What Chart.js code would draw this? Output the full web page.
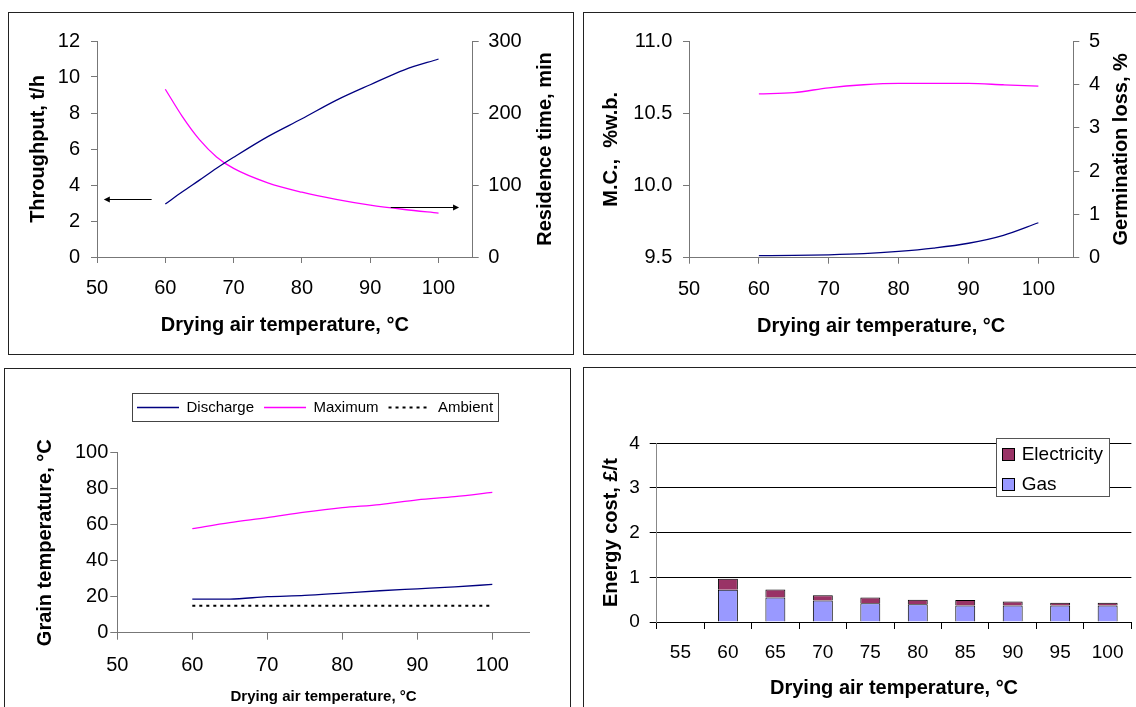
<!DOCTYPE html>
<html>
<head>
<meta charset="utf-8">
<script src="https://cdn.jsdelivr.net/npm/chart.js@4"></script>
<style>
  body { margin: 0; background: #fff; width: 1136px; height: 707px; overflow: hidden; position: relative; }
  .panel { position: absolute; border: 1px solid #222; box-sizing: border-box; }
  .panel canvas { position: absolute; left: 0; top: 0; }
</style>
</head>
<body>
<div class="panel" style="left:8px;top:12px;width:566px;height:343px"><canvas id="throughputChart" width="564" height="341"></canvas></div>
<div class="panel" style="left:583px;top:12px;width:560px;height:343px"><canvas id="qualityChart" width="552" height="341"></canvas></div>
<div class="panel" style="left:4px;top:368px;width:567px;height:345px"><canvas id="grainTempChart" width="565" height="338"></canvas></div>
<div class="panel" style="left:583px;top:367px;width:560px;height:345px"><canvas id="costChart" width="552" height="339"></canvas></div>
<script>
// throughput / residence time
const tempsA = [60, 62.5, 65, 67.5, 70, 75, 80, 85, 90, 95, 100];
const throughput = [2.94, 3.62, 4.27, 4.93, 5.54, 6.69, 7.68, 8.70, 9.57, 10.40, 11.00];
const residence = [233, 195, 163, 139, 123, 103, 90, 80, 72, 66, 61];
// arrows pointing each curve to its axis
const arrowFrom = [58, 93];
const arrowTo = [51, 103];
const arrowLevel = [3.25, 2.8];

// moisture content / germination loss
const tempsB = [60, 65, 70, 75, 80, 85, 90, 95, 100];
const moisture = [9.514, 9.516, 9.52, 9.528, 9.544, 9.567, 9.6, 9.655, 9.742];
const germLoss = [3.78, 3.81, 3.92, 3.99, 4.02, 4.02, 4.02, 3.99, 3.96];

// grain temperatures
const dischargeT = [18.7, 18.7, 20, 20.7, 22, 23.3, 24.4, 25.5, 26.8];
const maximumT = [57.8, 61.1, 63.9, 67, 69.5, 71.2, 73.8, 75.6, 78];
const ambientT = [15, 15, 15, 15, 15, 15, 15, 15, 15];

// energy cost per tonne
const costLabels = ['55', '60', '65', '70', '75', '80', '85', '90', '95', '100'];
const gasCost = [null, 0.72, 0.55, 0.48, 0.42, 0.40, 0.37, 0.37, 0.37, 0.37];
const elecCost = [null, 0.25, 0.18, 0.12, 0.13, 0.10, 0.12, 0.09, 0.06, 0.06];

Chart.defaults.font.family = '"Liberation Sans", Arial, sans-serif';
Chart.defaults.color = '#000';
Chart.defaults.animation = false;

const pts = (xs, ys) => xs.map((x, i) => ({ x: x, y: ys[i] }));
const titleFont = { size: 20, weight: 'bold' };

function curve(label, data, color, axis) {
    return {
        label: label, data: data, yAxisID: axis,
        borderColor: color, backgroundColor: color, borderWidth: 1.3,
        pointRadius: 0, fill: false, cubicInterpolationMode: 'monotone'
    };
}

// plain axis with outside tick marks and no grid
function axis(o) {
    const ticks = {
        stepSize: o.step, includeBounds: false, padding: o.pad, maxRotation: 0,
        font: { size: o.fontSize || 20 }, color: '#000'
    };
    if (o.fmt) ticks.callback = o.fmt;
    return {
        type: o.type || 'linear',
        position: o.position,
        min: o.min, max: o.max,
        afterFit: s => { if (o.width !== undefined) s.width = o.width; if (o.height !== undefined) s.height = o.height; },
        ticks: ticks,
        grid: { drawOnChartArea: !!o.onArea, tickLength: o.tick || 6, color: o.gridColor || '#777', offset: !!o.offset },
        border: { color: o.lineColor || '#777' },
        title: { display: !!o.title, text: o.title || '', font: o.titleFont || titleFont, color: '#000', padding: o.titlePad },
        offset: !!o.offset
    };
}

// right-hand axis title, read bottom to top like the left one
const sideTitle = {
    id: 'sideTitle',
    afterDraw(chart, args, o) {
        const s = chart.scales.y1;
        const { ctx, chartArea } = chart;
        ctx.save();
        ctx.translate(s.right - o.offset, (chartArea.top + chartArea.bottom) / 2);
        ctx.rotate(-Math.PI / 2);
        ctx.font = 'bold 20px "Liberation Sans", Arial, sans-serif';
        ctx.fillStyle = '#000';
        ctx.textAlign = 'center';
        ctx.textBaseline = 'middle';
        ctx.fillText(o.text, 0, 0);
        ctx.restore();
    }
};

// little arrows on the throughput chart
const axisArrows = {
    id: 'axisArrows',
    afterDatasetsDraw(chart) {
        const { ctx } = chart;
        const xs = chart.scales.x, ys = chart.scales.y;
        ctx.save();
        ctx.strokeStyle = '#000';
        ctx.fillStyle = '#000';
        ctx.lineWidth = 1;
        arrowFrom.forEach((a, i) => {
            const x0 = xs.getPixelForValue(a);
            const x1 = xs.getPixelForValue(arrowTo[i]);
            const y = Math.round(ys.getPixelForValue(arrowLevel[i])) + 0.5;
            const dir = x1 > x0 ? 1 : -1;
            ctx.beginPath();
            ctx.moveTo(x0, y);
            ctx.lineTo(x1 - dir * 5, y);
            ctx.stroke();
            ctx.beginPath();
            ctx.moveTo(x1, y);
            ctx.lineTo(x1 - dir * 6, y - 3);
            ctx.lineTo(x1 - dir * 6, y + 3);
            ctx.closePath();
            ctx.fill();
        });
        ctx.restore();
    }
};

// boxed legend drawn from the dataset styles
const framedLegend = {
    id: 'framedLegend',
    afterDraw(chart, args, o) {
        const { ctx, chartArea } = chart;
        let sets = chart.data.datasets.slice();
        if (o.reverse) sets.reverse();
        ctx.save();
        ctx.font = o.font;
        const widths = sets.map(d => ctx.measureText(d.label).width);
        let w;
        if (o.row) {
            w = o.inset * 2 + sets.reduce((s, d, i) => s + o.sample + o.gap + widths[i], 0) + o.spacing * (sets.length - 1);
        } else {
            w = o.inset * 2 + o.sample + o.gap + Math.max(...widths);
        }
        const h = o.height;
        const left = Math.round(o.right !== undefined ? chartArea.right - o.right - w : chartArea.left + o.left);
        const top = Math.round(chartArea.top + o.top);
        ctx.fillStyle = '#fff';
        ctx.fillRect(left, top, w, h);
        ctx.strokeStyle = o.frame;
        ctx.lineWidth = 1;
        ctx.strokeRect(left + 0.5, top + 0.5, Math.round(w), Math.round(h));
        ctx.textBaseline = 'middle';
        ctx.textAlign = 'left';
        let x = left + o.inset;
        sets.forEach((d, i) => {
            if (o.row) {
                const y = Math.round(top + h / 2) + 0.5;
                ctx.strokeStyle = d.borderColor;
                ctx.lineWidth = d.borderWidth;
                ctx.setLineDash(d.borderDash || []);
                ctx.beginPath();
                ctx.moveTo(x, y);
                ctx.lineTo(x + o.sample, y);
                ctx.stroke();
                ctx.setLineDash([]);
                ctx.fillStyle = '#000';
                ctx.fillText(d.label, x + o.sample + o.gap, top + h / 2 + 1);
                x += o.sample + o.gap + widths[i] + o.spacing;
            } else {
                const cy = top + o.first + i * o.rowStep;
                const sy = Math.round(cy - o.sample / 2) + 0.5;
                ctx.fillStyle = d.backgroundColor;
                ctx.fillRect(x + 0.5, sy, o.sample, o.sample);
                ctx.strokeStyle = '#000';
                ctx.strokeRect(x + 0.5, sy, o.sample, o.sample);
                ctx.fillStyle = '#000';
                ctx.fillText(d.label, x + o.sample + o.gap, cy + 1);
            }
        });
        ctx.restore();
    }
};

// Throughput and residence time
new Chart(document.getElementById('throughputChart'), {
    type: 'line',
    data: {
        datasets: [
            curve('Throughput', pts(tempsA, throughput), '#000080', 'y'),
            curve('Residence time', pts(tempsA, residence), '#FF00FF', 'y1')
        ]
    },
    options: {
        responsive: false,
        layout: { padding: { top: 28, left: 0, right: 0, bottom: 0 } },
        plugins: {
            legend: { display: false }, tooltip: { enabled: false },
            sideTitle: { text: 'Residence time, min', offset: 28 }
        },
        scales: {
            x: axis({ min: 50, max: 105, step: 10, height: 97, pad: 13.3,
                title: 'Drying air temperature, °C', titlePad: { top: 0, bottom: 17 } }),
            y: axis({ position: 'left', min: 0, max: 12, step: 2, width: 88, pad: 11,
                title: 'Throughput, t/h', titlePad: { top: 17, bottom: 0 } }),
            y1: axis({ position: 'right', min: 0, max: 300, step: 100, width: 100.3, pad: 9.6 })
        }
    },
    plugins: [axisArrows, sideTitle]
});

// Moisture content and germination loss
new Chart(document.getElementById('qualityChart'), {
    type: 'line',
    data: {
        datasets: [
            curve('M.C.', pts(tempsB, moisture), '#000080', 'y'),
            curve('Germination loss', pts(tempsB, germLoss), '#FF00FF', 'y1')
        ]
    },
    options: {
        responsive: false,
        layout: { padding: { top: 28, left: 0, right: 0, bottom: 0 } },
        plugins: {
            legend: { display: false }, tooltip: { enabled: false },
            sideTitle: { text: 'Germination loss, %', offset: 14.3 }
        },
        scales: {
            x: axis({ min: 50, max: 105, step: 10, height: 96.3, pad: 13.6,
                title: 'Drying air temperature, °C', titlePad: { top: 0, bottom: 16 } }),
            y: axis({ position: 'left', min: 9.5, max: 11, step: 0.5, width: 105, pad: 10.7,
                fmt: v => v.toFixed(1),
                title: 'M.C.,  %w.b.', titlePad: { top: 15.4, bottom: 0 } }),
            y1: axis({ position: 'right', min: 0, max: 5, step: 1, width: 62.7, pad: 9.7 })
        }
    },
    plugins: [sideTitle]
});

// Grain temperatures
const ambientSet = curve('Ambient', pts(tempsB, ambientT), '#000', 'y');
ambientSet.borderWidth = 2;
ambientSet.borderDash = [3, 4];
new Chart(document.getElementById('grainTempChart'), {
    type: 'line',
    data: {
        datasets: [
            curve('Discharge', pts(tempsB, dischargeT), '#000080', 'y'),
            curve('Maximum', pts(tempsB, maximumT), '#FF00FF', 'y'),
            ambientSet
        ]
    },
    options: {
        responsive: false,
        layout: { padding: { top: 83.7, left: 0, right: 40.2, bottom: 0 } },
        plugins: {
            legend: { display: false }, tooltip: { enabled: false },
            framedLegend: { row: true, font: '15px "Liberation Sans", Arial, sans-serif', frame: '#444',
                left: 15, top: -60, height: 28.3, inset: 5, sample: 42, gap: 7.5, spacing: 10 }
        },
        scales: {
            x: axis({ min: 50, max: 105, step: 10, height: 74.3, pad: 14, tick: 7,
                title: 'Drying air temperature, °C', titleFont: { size: 15, weight: 'bold' },
                titlePad: { top: 0, bottom: 1.3 } }),
            y: axis({ position: 'left', min: 0, max: 100, step: 20, width: 112.3, pad: 2, tick: 7,
                title: 'Grain temperature, °C', titlePad: { top: 28.5, bottom: 0 } })
        }
    },
    plugins: [framedLegend]
});

// Energy cost
new Chart(document.getElementById('costChart'), {
    type: 'bar',
    data: {
        labels: costLabels,
        datasets: [
            { label: 'Gas', data: gasCost, backgroundColor: '#9999FF', borderColor: '#000', borderWidth: 1,
              barPercentage: 0.42, categoryPercentage: 1 },
            { label: 'Electricity', data: elecCost, backgroundColor: '#993366', borderColor: '#000', borderWidth: 1,
              barPercentage: 0.42, categoryPercentage: 1 }
        ]
    },
    options: {
        responsive: false,
        layout: { padding: { top: 75.3, left: 0, right: 4.3, bottom: 0 } },
        plugins: {
            legend: { display: false }, tooltip: { enabled: false },
            framedLegend: { row: false, reverse: true, font: '19px "Liberation Sans", Arial, sans-serif', frame: '#555',
                right: 22, top: -5, height: 57.7, inset: 6, sample: 12, gap: 7.7, first: 16, rowStep: 30 }
        },
        scales: {
            x: Object.assign(axis({ type: 'category', height: 85, pad: 12.3, tick: 7, fontSize: 19,
                gridColor: '#000', lineColor: '#000', offset: true,
                title: 'Drying air temperature, °C', titlePad: { top: 0, bottom: 7 } }), { stacked: true }),
            y: Object.assign(axis({ position: 'left', min: 0, max: 4, step: 1, width: 72.7, pad: 10, tick: 7,
                fontSize: 19, onArea: true, gridColor: '#000', lineColor: '#888',
                title: 'Energy cost, £/t', titlePad: { top: 15.4, bottom: 0 } }), { stacked: true })
        }
    },
    plugins: [framedLegend]
});
</script>
</body>
</html>
